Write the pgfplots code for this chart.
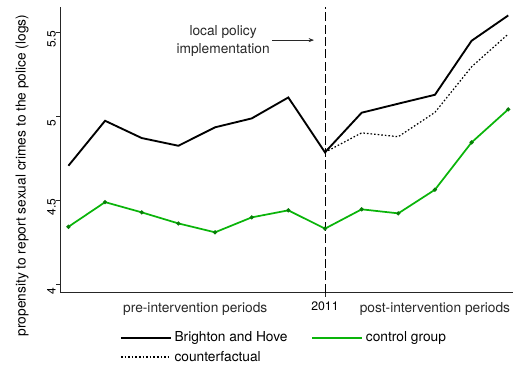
\documentclass[border=0pt]{standalone}
\usepackage{pgfplots}
\pgfplotsset{compat=1.18}
\usepackage{fontspec}
\setmainfont{TeX Gyre Heros}
\usetikzlibrary{arrows.meta}
\definecolor{ctrlgreen}{RGB}{10,180,10}
\definecolor{txtgray}{RGB}{40,40,40}

% Brighton and Hove, periods 1..13 (period 8 = 2011)
\pgfplotstableread{
x y
1 4.707
2 4.975
3 4.872
4 4.826
5 4.936
6 4.989
7 5.114
8 4.787
9 5.023
10 5.077
11 5.130
12 5.452
13 5.603
}\brighton
% control group
\pgfplotstableread{
x y
1 4.343
2 4.490
3 4.429
4 4.363
5 4.310
6 4.399
7 4.441
8 4.332
9 4.447
10 4.423
11 4.564
12 4.846
13 5.043
}\control
% counterfactual (post-intervention)
\pgfplotstableread{
x y
8 4.787
9 4.903
10 4.880
11 5.025
12 5.297
13 5.492
}\counterf

\begin{document}
\begin{tikzpicture}
\path[use as bounding box] (0,0) rectangle (384.75pt,274.5pt);
\begin{axis}[
  at={(45pt,55.1pt)}, anchor=south west,
  scale only axis, width=339.75pt, height=214.1pt,
  xmin=0.77, xmax=13.13, ymin=3.951, ymax=5.653,
  axis x line*=bottom, axis y line*=left,
  axis line style={line width=0.6pt, black!85, -},
  tick align=outside,
  major tick length=3pt,
  tick style={line width=0.6pt, black!85},
  ytick={4,4.5,5,5.5},
  yticklabel style={rotate=90, anchor=south, inner sep=0pt, xshift=-5pt,
    font=\fontsize{9}{10}\selectfont},
  xtick={8}, xticklabels={2011},
  xticklabel style={font=\fontsize{9.2}{10}\selectfont, inner sep=0pt, yshift=-4pt},
  extra x ticks={4.46,11},
  extra x tick labels={pre-intervention periods, post-intervention periods},
  extra x tick style={major tick style={draw=none},
    xticklabel style={font=\fontsize{10.3}{12}\selectfont, text=txtgray}},
  /pgf/number format/assume math mode=true,
  every axis y label/.style={at={(axis description cs:-0.0839,0.41)}, rotate=90, anchor=center},
  ylabel={propensity to report sexual crimes to the police (logs)},
  label style={font=\fontsize{10.3}{12}\selectfont},
  legend columns=2,
  legend style={draw=none, fill=none, at={(axis description cs:0.123,-0.1175)}, anchor=north west,
    font=\fontsize{10.3}{12}\selectfont, row sep=1.5pt,
    /tikz/every even column/.append style={column sep=16pt}},
  legend cell align=left,
  legend image code/.code={\draw[#1, mark=none] (0pt,0pt) -- (37.5pt,0pt);},
  clip=false,
]
\addplot[black, line width=1.4pt] table[x=x, y=y] {\brighton};
\addlegendentry{Brighton and Hove}
\addplot[ctrlgreen, line width=1.3pt, mark=*, mark size=0.8pt,
  mark options={fill=ctrlgreen!70!black, draw=ctrlgreen!70!black}] table[x=x, y=y] {\control};
\addlegendentry{control group}
\addplot[black, line width=0.9pt, dash pattern=on 1.2pt off 1.5pt] table[x=x, y=y] {\counterf};
\addlegendentry{counterfactual}
% intervention year
\addplot[black, line width=0.7pt, dash pattern=on 6.75pt off 2.5pt, forget plot]
  coordinates {(8,3.951) (8,5.653)};
\node[align=center, text=txtgray, font=\fontsize{10.3}{13}\selectfont]
  at (axis cs:5.22,5.45) {local policy\\implementation};
\draw[-{Stealth[length=4pt,width=3pt]}, line width=0.5pt, txtgray]
  (axis cs:6.56,5.456) -- (axis cs:7.70,5.456);
\end{axis}
\end{tikzpicture}
\end{document}
